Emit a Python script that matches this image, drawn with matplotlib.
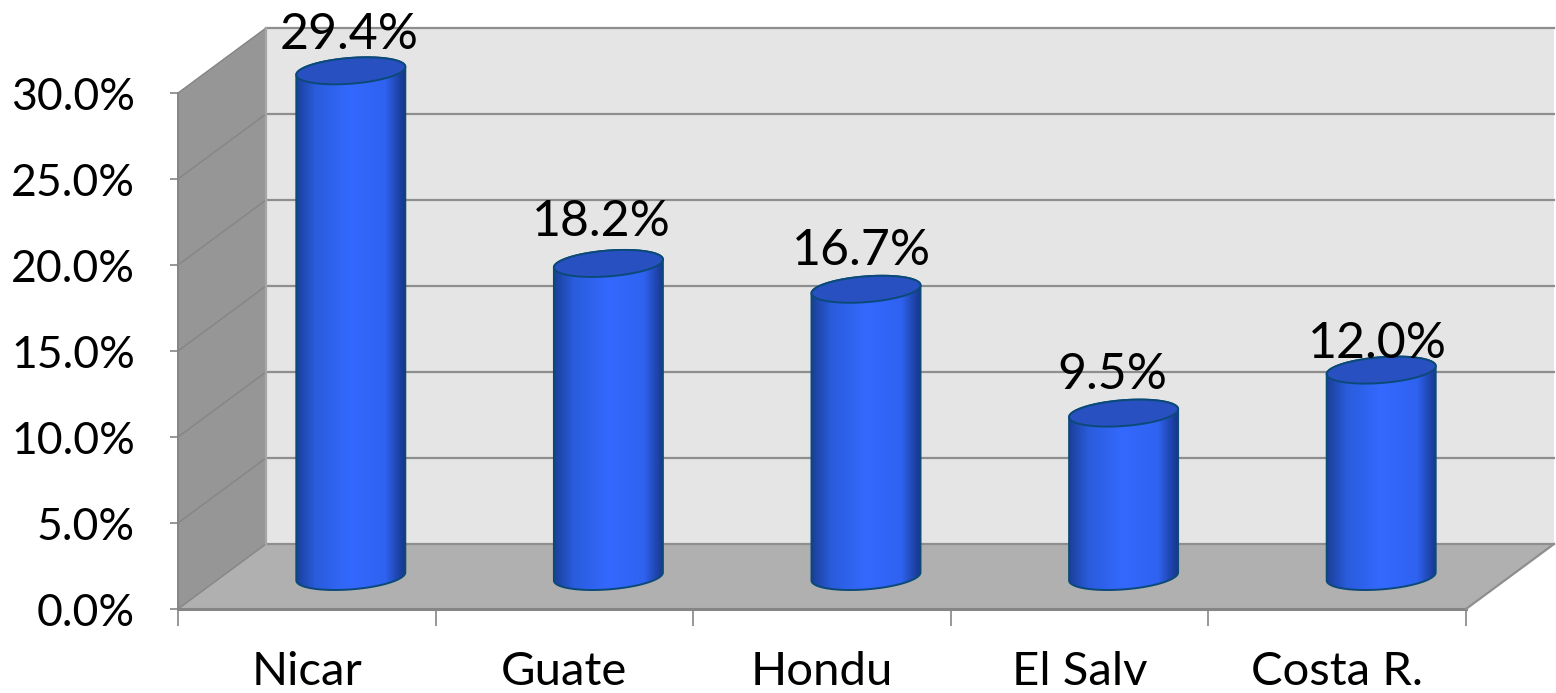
import numpy as np
import matplotlib
matplotlib.use('Agg')
import matplotlib.pyplot as plt
from matplotlib.colors import LinearSegmentedColormap
from matplotlib.patches import Polygon
from matplotlib.ticker import FuncFormatter

# Datos
paises = ['Nicar', 'Guate', 'Hondu', 'El Salv', 'Costa R.']
valores = [29.4, 18.2, 16.7, 9.5, 12.0]
etiquetas = ['29.4%', '18.2%', '16.7%', '9.5%', '12.0%']
ticks_y = [0, 5, 10, 15, 20, 25, 30]

# ajuste a mano de cada etiqueta (puntos)
desp_x = [-1, -5, -3, -8, -3]
desp_y = [9, 13, 11, 11, 2]

plt.rcParams['font.family'] = ['Lato', 'DejaVu Sans']

fig = plt.figure(figsize=(15.56, 6.93), dpi=100)
ax = fig.add_axes([178 / 1556, (693 - 609) / 693, 1288 / 1556, 516 / 693])
ax.set_xlim(0, 5)
ax.set_ylim(0, 30)

# profundidad del falso 3D en unidades de datos
px_x = 5 / 1288
px_y = 30 / 516
dx = 88 * px_x
dy = 65 * px_y
n = len(paises)

ax.add_patch(Polygon([(0, 0), (dx, dy), (dx, 30 + dy), (0, 30)], fc='#969696', ec='none', clip_on=False, zorder=1))
ax.add_patch(Polygon([(dx, dy), (n + dx, dy), (n + dx, 30 + dy), (dx, 30 + dy)], fc='#e5e5e5', ec='none', clip_on=False, zorder=1))
ax.add_patch(Polygon([(0, 0), (n, 0), (n + dx, dy), (dx, dy)], fc='#b0b0b0', ec='none', clip_on=False, zorder=1))

# rejilla
for t in ticks_y:
    ax.plot([dx, n + dx], [t + dy, t + dy], color='#8e8e8e', lw=1.6, clip_on=False, zorder=2)
    ax.plot([0, dx], [t, t + dy], color='#858585', lw=1.0, clip_on=False, zorder=2)
ax.plot([dx, dx], [dy, 30 + dy], color='#a6a6a6', lw=1.6, clip_on=False, zorder=2)
ax.plot([0, 0], [0, 30], color='#858585', lw=1.4, clip_on=False, zorder=3)
ax.plot([0, n], [0, 0], color='#858585', lw=2.2, clip_on=False, zorder=3)
ax.plot([n, n + dx], [0, dy], color='#8e8e8e', lw=1.6, clip_on=False, zorder=3)

# cilindros
cmap = LinearSegmentedColormap.from_list('cil', [(0, '#1b4099'), (0.18, '#2a5cdc'), (0.5, '#3469ff'),
                                                 (0.82, '#2f62f0'), (1, '#163688')])
grad = np.linspace(0, 1, 256).reshape(1, -1)
a = 54.5 * px_x
s = 4 * px_y
b = 12.9 * px_y
t = np.linspace(0, 2 * np.pi, 200)
for i, v in enumerate(valores):
    cx = i + 0.5 + dx / 2
    y0 = dy / 2
    y1 = y0 + v
    # lateral: mitad inferior de la base y mitad superior de la tapa
    tb = np.linspace(np.pi, 2 * np.pi, 100)
    tt = np.linspace(0, np.pi, 100)
    xs = np.r_[cx + a * np.cos(tb), cx + a * np.cos(tt)]
    ys = np.r_[y0 + s * np.cos(tb) + b * np.sin(tb), y1 + s * np.cos(tt) + b * np.sin(tt)]
    cuerpo = Polygon(np.c_[xs, ys], fc='none', ec='#0b4a78', lw=1.4, clip_on=False, zorder=5)
    ax.add_patch(cuerpo)
    im = ax.imshow(grad, extent=[cx - a, cx + a, y0 - 2, y1 + 2], cmap=cmap, aspect='auto', zorder=4)
    im.set_clip_path(cuerpo)
    im.set_clip_box(fig.bbox)
    ax.fill(cx + a * np.cos(t), y1 + s * np.cos(t) + b * np.sin(t), fc='#2850c0', ec='#0b4a78', lw=1.4,
            clip_on=False, zorder=6)
    ax.annotate(etiquetas[i], (cx, y1), xytext=(desp_x[i], desp_y[i]), textcoords='offset points',
                ha='center', va='bottom', fontsize=36, color='black', zorder=7, annotation_clip=False)

ax.set_xlim(0, 5)
ax.set_ylim(0, 30)

# ejes
for sp in ax.spines.values():
    sp.set_visible(False)
ax.patch.set_visible(False)
ax.set_yticks(ticks_y)
ax.yaxis.set_major_formatter(FuncFormatter(lambda val, pos: '%.1f%%' % val))
ax.tick_params(axis='y', length=6, width=1.2, color='#858585', labelsize=32, pad=25)
ax.set_xticks(range(n + 1))
ax.set_xticklabels([])
ax.set_xticks([i + 0.5 for i in range(n)], minor=True)
ax.set_xticklabels(paises, minor=True)
ax.tick_params(axis='x', which='major', length=12, width=1.2, color='#858585')
ax.tick_params(axis='x', which='minor', length=0, labelsize=34, pad=30)

fig.savefig('out.png', dpi=100, facecolor='white')
